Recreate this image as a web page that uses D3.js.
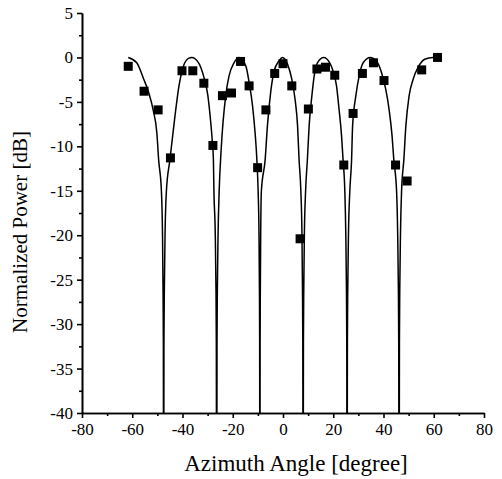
<!DOCTYPE html>
<html>
<head>
<meta charset="utf-8">
<script src="https://cdn.jsdelivr.net/npm/d3@7"></script>
<style>
  html, body { margin: 0; padding: 0; background: #fff; }
  svg { display: block; }
</style>
</head>
<body>
<div id="chart"></div>
<script>
// measured points (squares)
const measAngle = [-61.6, -55.3, -49.7, -44.8, -40.2, -35.9, -31.5, -27.9, -24.1, -20.5,
    -16.9, -13.5, -10.1, -6.8, -3.3, 0.0, 3.5, 6.8, 10.1, 13.5,
    16.9, 20.6, 24.2, 27.9, 31.6, 36.0, 40.2, 44.8, 49.4, 55.2, 61.5];
const measPower = [-1.0, -3.8, -5.9, -11.3, -1.5, -1.5, -2.9, -9.9, -4.3, -4.0,
    -0.45, -3.2, -12.4, -5.9, -1.8, -0.7, -3.2, -20.4, -5.8, -1.3,
    -1.1, -2.0, -12.1, -6.3, -1.8, -0.6, -2.6, -12.1, -13.9, -1.4, 0.0];

// simulated pattern (solid line)
const simAngle = [
    -61.6, -58.2, -55.5, -53.5, -51.6, -50.2, -49.5,
    -48.4, -47.95, -47.75, -47.62, -47.5, -47.38, -47.22, -46.95, -46.4,
    -45.0, -43.0, -41.4, -39.6, -37.6, -36.3, -33.6, -31.6, -29.9, -29.0, -28.1, -27.7,
    -27.5, -26.95, -26.68, -26.54, -26.4, -26.26, -26.12, -25.85, -25.4,
    -24.6, -22.8, -21.5, -19.5, -17.5, -14.8, -13.5, -12.1, -11.1, -10.4,
    -9.9, -9.55, -9.38, -9.29, -9.2, -9.11, -9.02, -8.88, -8.6,
    -7.1, -6.2, -4.9, -3.5, -1.6, -0.2, 1.8, 3.5, 4.8, 5.8, 6.4,
    7.1, 7.55, 7.75, 7.88, 8.0, 8.13, 8.27, 8.5, 9.0,
    9.7, 10.4, 11.5, 12.4, 13.7, 16.2, 18.6, 19.9, 21.3, 22.3, 23.3, 23.9,
    24.6, 25.0, 25.25, 25.38, 25.5, 25.63, 25.78, 26.05, 26.6,
    27.3, 27.7, 29.0, 30.3, 31.9, 34.7, 37.2, 39.2, 40.9, 42.2, 43.4, 44.1,
    45.2, 45.65, 45.92, 46.06, 46.2, 46.34, 46.48, 46.75, 47.2,
    48.1, 48.9, 50.2, 51.8, 53.8, 56.4, 59.7, 61.5
];
const simPower = [
    0.0, -0.6, -2.4, -3.9, -6.0, -8.5, -11.5,
    -15, -20, -26, -32, -60, -32, -26, -20, -15,
    -11.5, -6.6, -3.2, -0.95, -0.1, 0.0, -0.6, -2.1, -4.3, -6.6, -9.6, -11.5,
    -15, -20, -26, -32, -60, -32, -26, -20, -15,
    -10.3, -4.3, -2.1, -0.6, 0.0, -0.95, -2.8, -5.5, -8.5, -11.5,
    -15, -20, -26, -32, -60, -32, -26, -20, -15,
    -11.5, -7.7, -3.9, -1.5, -0.4, 0.0, -0.75, -2.45, -4.7, -7.7, -11.5,
    -15, -20, -26, -32, -60, -32, -26, -20, -15,
    -11.5, -7.7, -4.3, -2.1, -0.6, 0.0, -0.6, -1.5, -3.2, -5.8, -8.8, -11.5,
    -15, -20, -26, -32, -60, -32, -26, -20, -15,
    -11.5, -7.7, -4.3, -2.1, -0.6, 0.0, -0.4, -1.7, -3.6, -5.8, -8.8, -11.5,
    -15, -20, -26, -32, -60, -32, -26, -20, -15,
    -11.5, -7.7, -4.3, -2.45, -1.1, -0.2, 0.0, 0.0
];

const xTicks = [-80, -60, -40, -20, 0, 20, 40, 60, 80];
const yTicks = [5, 0, -5, -10, -15, -20, -25, -30, -35, -40];

const FONT = '"Liberation Serif", "Times New Roman", serif';
const W = 502, H = 479;
const margin = { top: 13, right: 18, bottom: 66, left: 82 };
const width = W - margin.left - margin.right;
const height = H - margin.top - margin.bottom;

const svg = d3.select('#chart')
    .append('svg')
    .attr('width', W)
    .attr('height', H)
    .append('g')
    .attr('transform', `translate(${margin.left},${margin.top})`);

svg.append('defs')
    .append('clipPath')
    .attr('id', 'clip')
    .append('rect')
    .attr('width', width)
    .attr('height', height);

const x = d3.scaleLinear().domain([-80, 80]).range([0, width]);
const y = d3.scaleLinear().domain([-40, 5]).range([height, 0]);

function styleAxis(g) {
    g.attr('font-family', FONT).attr('font-size', 17);
    g.selectAll('path, line').attr('stroke', '#000').attr('stroke-width', 1.6);
    g.selectAll('text').attr('fill', '#000');
}

// minor ticks first, then major axes on top
svg.append('g')
    .attr('transform', `translate(0,${height})`)
    .call(d3.axisBottom(x).tickValues(d3.range(-70, 80, 20)).tickSize(3).tickSizeOuter(0).tickFormat(''))
    .call(styleAxis);
svg.append('g')
    .call(d3.axisLeft(y).tickValues(d3.range(-37.5, 5, 5)).tickSize(3).tickSizeOuter(0).tickFormat(''))
    .call(styleAxis);

svg.append('g')
    .attr('class', 'x-axis axis')
    .attr('transform', `translate(0,${height})`)
    .call(d3.axisBottom(x).tickValues(xTicks).tickSize(5).tickSizeOuter(0).tickPadding(5)
        .tickFormat(d => String(d)))
    .call(styleAxis);

svg.append('g')
    .attr('class', 'y-axis axis')
    .call(d3.axisLeft(y).tickValues(yTicks).tickSize(5).tickSizeOuter(0).tickPadding(4)
        .tickFormat(d => String(d)))
    .call(styleAxis);

// simulated line
const simData = simAngle.map((a, i) => ({ a, p: simPower[i] }));
const line = d3.line()
    .x(d => x(d.a))
    .y(d => y(d.p))
    .curve(d3.curveMonotoneX);

svg.append('path')
    .datum(simData)
    .attr('clip-path', 'url(#clip)')
    .attr('fill', 'none')
    .attr('stroke', '#000')
    .attr('stroke-width', 1.5)
    .attr('d', line);

// measured squares
const sq = 9;
svg.append('g')
    .selectAll('rect')
    .data(measAngle.map((a, i) => ({ a, p: measPower[i] })))
    .enter()
    .append('rect')
    .attr('x', d => x(d.a) - sq / 2)
    .attr('y', d => y(d.p) - sq / 2)
    .attr('width', sq)
    .attr('height', sq)
    .attr('fill', '#000');

// axis titles
svg.append('text')
    .attr('font-family', FONT)
    .attr('font-size', 23)
    .attr('text-anchor', 'middle')
    .attr('x', 214)
    .attr('y', height + 58)
    .text('Azimuth Angle [degree]');

svg.append('text')
    .attr('font-family', FONT)
    .attr('font-size', 21)
    .attr('text-anchor', 'middle')
    .attr('transform', `translate(-55,${219}) rotate(-90)`)
    .text('Normalized Power [dB]');
</script>
</body>
</html>
